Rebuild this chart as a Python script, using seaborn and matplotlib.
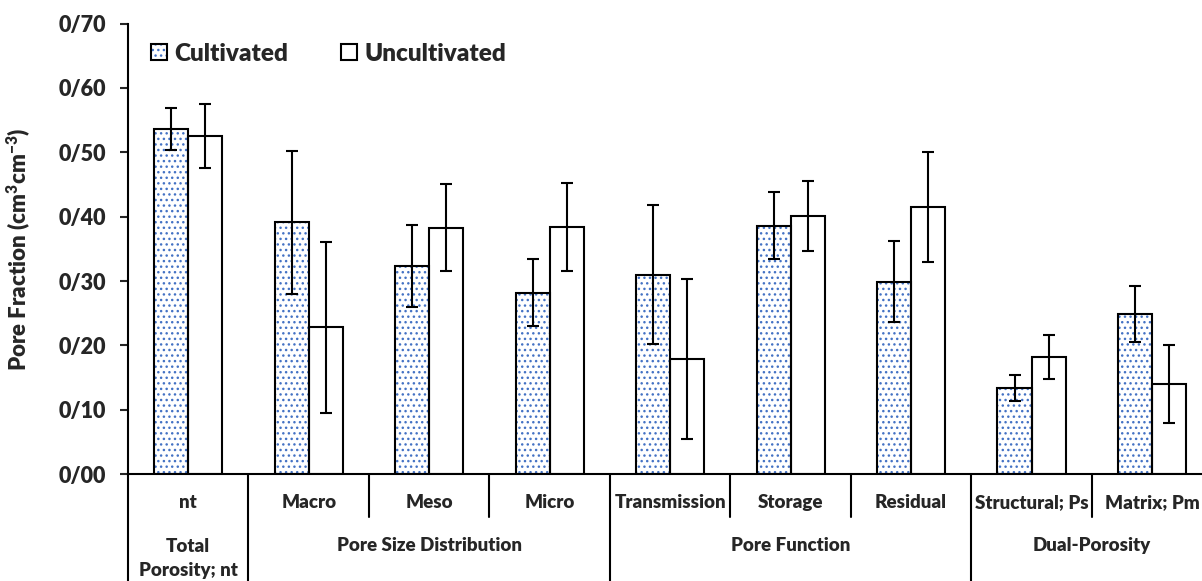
import numpy as np
import pandas as pd
import matplotlib
matplotlib.use("Agg")
import matplotlib.pyplot as plt
import matplotlib.ticker as mticker
from matplotlib.patches import Patch, Rectangle
from matplotlib.legend_handler import HandlerTuple
import seaborn as sns

# ------------------------------------------------------------------ #
#  Data                                #
# ------------------------------------------------------------------ #
categories = ["nt", "Macro", "Meso", "Micro", "Transmission", "Storage",
              "Residual", "Structural; Ps", "Matrix; Pm"]
groups = ["Total\nPorosity; nt", "Pore Size Distribution", "Pore Function",
          "Dual-Porosity"]
group_sizes = [1, 3, 3, 2]

cultivated = [0.536, 0.391, 0.323, 0.282, 0.310, 0.386, 0.299, 0.134, 0.249]
cultivated_err = [0.033, 0.111, 0.064, 0.052, 0.108, 0.052, 0.063, 0.020, 0.043]
uncultivated = [0.525, 0.228, 0.383, 0.384, 0.179, 0.401, 0.415, 0.182, 0.140]
uncultivated_err = [0.050, 0.133, 0.067, 0.069, 0.124, 0.055, 0.085, 0.034, 0.061]

yticks = [0.0, 0.1, 0.2, 0.3, 0.4, 0.5, 0.6, 0.7]

DOT_BLUE = "#4472C4"
LW = 1.5
WT = "heavy"

df = pd.DataFrame({
    "category": categories * 2,
    "value": cultivated + uncultivated,
    "soil": ["Cultivated"] * len(categories) + ["Uncultivated"] * len(categories),
})

sns.set_style("white")
plt.rcParams["font.family"] = ["Lato", "DejaVu Sans"]
plt.rcParams["font.weight"] = WT
plt.rcParams["mathtext.fontset"] = "custom"
plt.rcParams["mathtext.rm"] = "Lato:heavy"
plt.rcParams["mathtext.bf"] = "Lato:heavy"
plt.rcParams["hatch.linewidth"] = 1.0

fig = plt.figure(figsize=(12.02, 5.81), dpi=100)
ax = fig.add_axes([0.1065, 0.184, 0.902, 0.7754])

sns.barplot(data=df, x="category", y="value", hue="soil", order=categories,
            hue_order=["Cultivated", "Uncultivated"],
            palette={"Cultivated": "white", "Uncultivated": "white"},
            width=0.565, edgecolor="black", linewidth=LW, errorbar=None,
            legend=False, ax=ax)

# dotted fill for cultivated bars: blue dots + black outline on top
for bar in ax.containers[0]:
    bar.set_hatch("...")
    bar.set_edgecolor(DOT_BLUE)
    bar.set_linewidth(0)
    ax.add_patch(Rectangle(bar.get_xy(), bar.get_width(), bar.get_height(),
                           fill=False, edgecolor="black", linewidth=LW, zorder=3))

# error bars
for cont, vals, errs in [(ax.containers[0], cultivated, cultivated_err),
                         (ax.containers[1], uncultivated, uncultivated_err)]:
    xs = [b.get_x() + b.get_width() / 2 for b in cont]
    ax.errorbar(xs, vals, yerr=errs, fmt="none", ecolor="black",
                elinewidth=LW, capsize=4.5, capthick=LW, zorder=5)

ax.set_xlim(-0.5, len(categories) - 0.5)
ax.set_ylim(0, 0.7)
ax.set_yticks(yticks)
ax.yaxis.set_major_formatter(
    mticker.FuncFormatter(lambda v, p: f"{v:.2f}".replace(".", "/")))
ax.tick_params(axis="y", direction="out", length=6, width=LW,
               labelsize=15.5, pad=10, left=True)
for lbl in ax.get_yticklabels():
    lbl.set_fontweight(WT)
ax.set_xticks([])
ax.set_xlabel("")
ax.set_ylabel(r"Pore Fraction (cm$\mathbf{^{3}}$cm$\mathbf{^{-3}}$)",
              fontsize=16, fontweight=WT)
ax.yaxis.set_label_coords(-0.0876, 0.5)

sns.despine(ax=ax)
for side in ["left", "bottom"]:
    ax.spines[side].set_color("black")
    ax.spines[side].set_linewidth(LW)

# ------------------------------------------------------------------ #
#  Category table under the x axis                                    #
# ------------------------------------------------------------------ #
trans = ax.get_xaxis_transform()
group_edges = list(np.cumsum([0] + group_sizes))
for i in range(len(categories) + 1):
    ybot = -0.26 if i in group_edges else -0.0955
    ax.plot([i - 0.5, i - 0.5], [0, ybot], transform=trans, color="black",
            lw=LW, clip_on=False)

for i, cat in enumerate(categories):
    ax.text(i, -0.064, cat, transform=trans, ha="center", va="center",
            fontsize=13.5, fontweight=WT)

for g, start, size in zip(groups, group_edges[:-1], group_sizes):
    center = start + (size - 1) / 2
    ypos = -0.1875 if "\n" in g else -0.158
    ax.text(center, ypos, g, transform=trans, ha="center", va="center",
            fontsize=13.5, fontweight=WT, linespacing=1.45)

# ------------------------------------------------------------------ #
#  Legend                                                              #
# ------------------------------------------------------------------ #
h_cult = (Patch(facecolor="white", edgecolor=DOT_BLUE, hatch="...", linewidth=0),
          Patch(facecolor="none", edgecolor="black", linewidth=LW))
h_unc = Patch(facecolor="white", edgecolor="black", linewidth=LW)
ax.legend([h_cult, h_unc], ["Cultivated", "Uncultivated"],
          handler_map={tuple: HandlerTuple(ndivide=1)},
          loc="center left", bbox_to_anchor=(0.021, 0.933), ncol=2,
          frameon=False, prop={"size": 17.5, "weight": WT},
          handlelength=0.65, handleheight=0.65,
          handletextpad=0.3, columnspacing=2.2, borderpad=0, borderaxespad=0)

fig.savefig("out.png", dpi=100)
